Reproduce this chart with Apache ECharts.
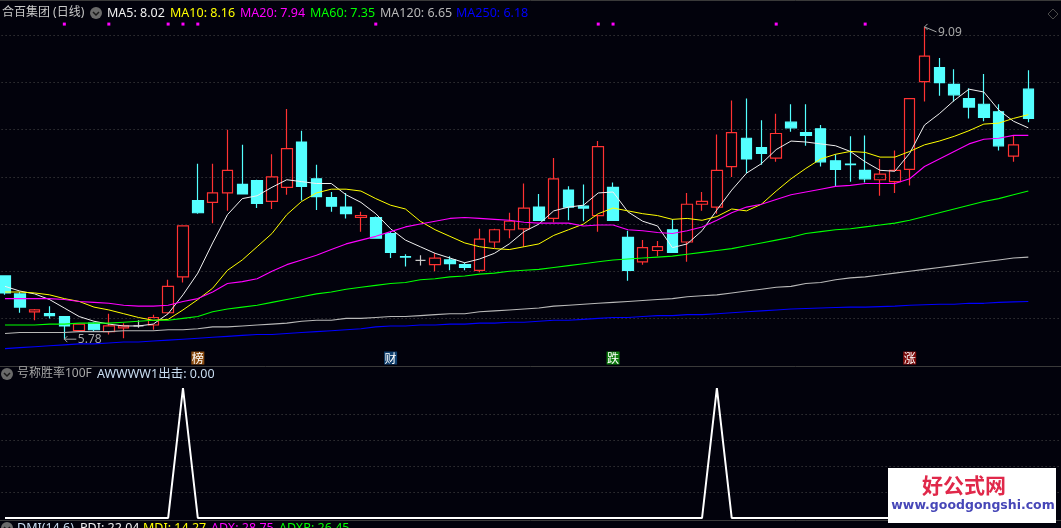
<!DOCTYPE html>
<html>
<head>
<meta charset="utf-8">
<style>
html,body{margin:0;padding:0;background:#02020c;}
#main{width:1061px;height:528px;}
</style>
<script src="https://cdn.jsdelivr.net/npm/echarts@6/dist/echarts.min.js"></script>
</head>
<body>
<div id="main"></div>
<script>
// K线 open/close/low/high
var opens = [6.45,6.26,6.07,6.05,6.02,5.87,5.95,5.86,5.90,5.92,
  5.93,6.06,6.44,7.25,7.23,7.33,7.42,7.46,7.24,7.39,
  7.87,7.48,7.28,7.18,7.07,7.07,6.90,6.655,6.615,6.57,
  6.62,6.57,6.51,6.81,6.94,6.95,7.18,7.06,7.36,7.19,
  7.09,7.39,6.86,6.60,6.72,6.94,6.81,7.21,7.18,7.61,
  7.91,7.81,7.70,8.08,7.97,8.01,7.67,7.635,7.57,7.47,
  7.45,7.58,8.51,8.66,8.48,8.33,8.27,8.19,7.72,8.43];
var closes = [6.27,6.12,6.09,6.03,5.92,5.94,5.88,5.92,5.92,5.92,
  6.01,6.34,6.98,7.12,7.33,7.57,7.32,7.22,7.50,7.80,
  7.40,7.29,7.19,7.11,7.09,6.85,6.70,6.65,6.615,6.64,
  6.58,6.54,6.84,6.94,7.03,7.17,7.04,7.48,7.18,7.17,
  7.82,7.04,6.51,6.75,6.76,6.70,7.21,7.24,7.57,7.97,
  7.69,7.75,7.96,8.02,7.94,7.66,7.58,7.63,7.48,7.53,
  7.57,8.33,8.78,8.50,8.37,8.24,8.13,7.83,7.84,8.12];
var lows = [6.25,6.06,5.98,6.00,5.78,5.87,5.86,5.83,5.79,5.90,
  5.88,6.05,6.38,7.11,7.01,7.14,7.32,7.17,7.16,7.31,
  7.25,7.15,7.13,7.06,6.92,6.85,6.64,6.55,6.56,6.50,
  6.51,6.51,6.49,6.75,6.85,6.76,7.04,7.02,7.04,7.03,
  6.92,7.04,6.40,6.57,6.66,6.70,6.60,7.14,7.11,7.50,
  7.54,7.63,7.66,7.98,7.83,7.61,7.40,7.45,7.44,7.30,
  7.33,7.41,8.30,8.36,8.30,8.12,8.09,7.78,7.66,8.08];
var highs = [6.45,6.28,6.10,6.13,6.02,5.94,5.96,6.05,5.95,5.98,
  6.04,6.41,6.98,7.64,7.64,8.00,7.84,7.47,7.74,8.22,
  7.99,7.63,7.34,7.33,7.13,7.08,6.92,6.68,6.67,6.69,
  6.66,6.59,6.95,6.95,7.12,7.43,7.32,7.70,7.40,7.42,
  7.88,7.44,6.93,6.83,6.82,7.05,7.33,7.34,7.95,8.31,
  8.33,8.10,8.17,8.27,8.27,8.05,7.74,7.93,7.94,7.69,
  7.78,8.33,9.09,8.76,8.64,8.44,8.59,8.27,7.94,8.63];

var ma5 = [6.34,6.29,6.26,6.20,6.11,6.02,5.97,5.94,5.92,5.92,
  5.94,6.05,6.25,6.48,6.80,7.10,7.27,7.30,7.39,7.47,
  7.45,7.43,7.43,7.31,7.23,7.11,6.95,6.83,6.76,6.69,
  6.64,6.59,6.63,6.69,6.79,6.92,7.00,7.14,7.18,7.20,
  7.33,7.34,7.13,7.03,6.98,6.75,6.79,6.93,7.15,7.36,
  7.54,7.64,7.79,7.88,7.87,7.85,7.83,7.77,7.66,7.57,
  7.56,7.75,8.05,8.17,8.31,8.43,8.40,8.21,8.09,8.02];
var ma10 = [6.28,6.28,6.27,6.25,6.21,6.18,6.12,6.09,6.05,6.01,
  5.98,5.99,6.09,6.20,6.32,6.51,6.62,6.76,6.90,7.10,
  7.24,7.33,7.37,7.37,7.35,7.27,7.20,7.16,7.03,6.94,
  6.87,6.80,6.76,6.74,6.73,6.76,6.79,6.88,6.94,7.00,
  7.11,7.17,7.14,7.11,7.09,7.05,7.06,7.04,7.08,7.16,
  7.14,7.21,7.35,7.48,7.59,7.69,7.74,7.77,7.76,7.71,
  7.71,7.77,7.84,7.88,7.93,7.99,8.06,8.07,8.12,8.16];
var ma20 = [6.21,6.21,6.21,6.21,6.20,6.18,6.17,6.16,6.14,6.13,
  6.13,6.14,6.18,6.21,6.28,6.37,6.39,6.42,6.50,6.57,
  6.62,6.67,6.73,6.79,6.83,6.87,6.92,6.97,7.00,7.03,
  7.06,7.07,7.06,7.05,7.04,7.02,7.01,7.01,7.01,6.98,
  6.99,6.99,6.94,6.93,6.91,6.90,6.93,6.97,7.04,7.12,
  7.18,7.21,7.26,7.31,7.34,7.37,7.40,7.41,7.43,7.43,
  7.43,7.48,7.61,7.69,7.77,7.85,7.90,7.91,7.94,7.94];
var ma60 = [5.93,5.93,5.93,5.94,5.94,5.95,5.95,5.95,5.96,5.97,
  5.98,5.98,6.00,6.02,6.07,6.10,6.12,6.14,6.17,6.20,
  6.23,6.26,6.28,6.31,6.33,6.35,6.37,6.38,6.41,6.42,
  6.44,6.45,6.47,6.48,6.50,6.51,6.52,6.54,6.56,6.58,
  6.60,6.62,6.63,6.64,6.65,6.66,6.68,6.70,6.72,6.74,
  6.77,6.80,6.83,6.86,6.90,6.92,6.94,6.95,6.97,6.99,
  7.01,7.04,7.08,7.12,7.16,7.20,7.24,7.27,7.31,7.35];
var ma120 = [5.84,5.85,5.85,5.85,5.85,5.86,5.86,5.86,5.87,5.87,
  5.87,5.88,5.88,5.89,5.91,5.91,5.92,5.93,5.94,5.95,
  5.97,5.98,5.98,6.00,6.00,6.01,6.02,6.02,6.03,6.04,
  6.05,6.05,6.07,6.08,6.09,6.10,6.11,6.13,6.14,6.15,
  6.16,6.17,6.18,6.19,6.20,6.21,6.23,6.24,6.25,6.27,
  6.29,6.31,6.33,6.34,6.37,6.38,6.41,6.43,6.44,6.46,
  6.48,6.50,6.52,6.54,6.56,6.58,6.60,6.62,6.64,6.65];
var ma250 = [5.68,5.69,5.70,5.71,5.72,5.73,5.73,5.74,5.75,5.75,
  5.76,5.77,5.78,5.79,5.80,5.81,5.82,5.83,5.83,5.84,
  5.85,5.86,5.87,5.88,5.89,5.91,5.92,5.92,5.93,5.93,
  5.94,5.94,5.95,5.95,5.96,5.96,5.97,5.98,5.98,5.99,
  6.00,6.01,6.01,6.02,6.03,6.03,6.04,6.04,6.05,6.06,
  6.07,6.08,6.09,6.10,6.105,6.11,6.115,6.12,6.12,6.125,
  6.13,6.14,6.145,6.15,6.15,6.16,6.16,6.17,6.175,6.18];

// 副图 AWWWW1出击
var attack = [0,0,0,0,0,0,0,0,0,0,
  0,0,1,0,0,0,0,0,0,0,
  0,0,0,0,0,0,0,0,0,0,
  0,0,0,0,0,0,0,0,0,0,
  0,0,0,0,0,0,0,0,1,0,
  0,0,0,0,0,0,0,0,0,0,
  0,0,0,0,0,0,0,0,0,0];

var signalIdx = [4,7,11,12,13,25,40,41,52,58];
var signalLevel = 9.12;
var tagIdx = [13,26,41,61];
var tagText = ['榜','财','跌','涨'];
var tagColor = ['#8a4b10','#0f3f6e','#0b7a0b','#7d0c0c'];
var tagLevel = 5.58;
var extremeIdx = [4,62];
var extremeVal = [5.78,9.09];

// 右边留两根空位，网格线才能画到头
var categories = [];
for(var i=0;i<72;i++){
    categories.push(String(i+1));
}

var BG = '#02020c';
var UP = '#ff3232';
var DOWN = '#54ffff';
var FONT = '"Noto Sans","Noto Sans CJK SC",sans-serif';

var kData = [];
for(var i=0;i<opens.length;i++){
    kData.push([opens[i],closes[i],lows[i],highs[i]]);
}

function maSeries(name,data,color,width){
    return {
        name:name,
        type:'line',
        xAxisIndex:0,
        yAxisIndex:0,
        data:data,
        showSymbol:false,
        smooth:false,
        lineStyle:{color:color,width:width},
        silent:true,
        z:3
    };
}

function headText(text,x,y,color,size){
    return {
        type:'text',
        z:50,
        style:{
            text:text,x:x,y:y,fill:color,
            font:(size||12.5)+'px '+FONT,
            textVerticalAlign:'middle'
        }
    };
}

function arrowBtn(x,y){
    return [
        {type:'circle',z:50,shape:{cx:x,cy:y,r:6},style:{fill:'#6a6a6a'}},
        {type:'polyline',z:51,shape:{points:[[x-3,y-1],[x,y+2],[x+3,y-1]]},style:{stroke:'#1a1a1a',fill:null,lineWidth:1.5}}
    ];
}

function hLine(y,color){
    return {type:'line',z:40,shape:{x1:0,y1:y,x2:1061,y2:y},style:{stroke:color,lineWidth:1}};
}

var graphics = [
    hLine(0.5,'#3a3a3a'),
    hLine(366.5,'#3a3a3a'),
    hLine(520.5,'#3a3a3a'),
    headText('合百集团 (日线)',2,13,'#c8c8c8',12),
    headText('MA5: 8.02',107,13,'#f0f0f0'),
    headText('MA10: 8.16',170,13,'#ffff00'),
    headText('MA20: 7.94',240,13,'#ff00ff'),
    headText('MA60: 7.35',310,13,'#00ff00'),
    headText('MA120: 6.65',380,13,'#b8b8b8'),
    headText('MA250: 6.18',456,13,'#0000ff'),
    headText('号称胜率100F',17,374,'#a8a8a8',12),
    headText('AWWWW1出击: 0.00',97,374,'#c8dcf0'),
    headText('DMI(14,6)',17,528,'#c8dcf0'),
    headText('PDI: 22.04',80,528,'#f0f0f0'),
    headText('MDI: 14.27',143,528,'#ffff00'),
    headText('ADX: 28.75',211,528,'#ff00ff'),
    headText('ADXR: 26.45',279,528,'#00ff00'),
    {type:'polygon',z:50,shape:{points:[[1053,9],[1058,14],[1053,19],[1048,14]]},style:{fill:null,stroke:'#4a4a4a',lineWidth:1}},
    // 水印
    {type:'rect',z:60,shape:{x:888,y:468,width:168,height:55},style:{fill:'#ffffff'}},
    {type:'text',z:61,style:{text:'好公式网',x:964,y:485,fill:'#e0284a',font:'bold 21px "Noto Sans CJK SC"',textAlign:'center',textVerticalAlign:'middle'}},
    {type:'text',z:61,style:{text:'www.goodgongshi.com',x:973,y:506,fill:'#4747b8',font:'bold 12.5px "DejaVu Sans"',textAlign:'center',textVerticalAlign:'middle'}}
].concat(arrowBtn(96,13),arrowBtn(7,374),arrowBtn(7,528));

var splitStyle = {show:true,showMinLine:false,showMaxLine:false,lineStyle:{color:'#4a4a4a',type:[1,3],width:1}};
var gridL = -2.4, gridW = 1067.8;

var option = {
    backgroundColor:BG,
    animation:false,
    grid:[
        {left:gridL,width:gridW,top:-11.77,height:377.36,outerBoundsMode:'none'},
        {left:gridL,width:gridW,top:388,height:130,outerBoundsMode:'none'}
    ],
    xAxis:[
        {type:'category',gridIndex:0,data:categories,boundaryGap:true,axisLine:{show:false},axisTick:{show:false},axisLabel:{show:false},splitLine:{show:false}},
        {type:'category',gridIndex:1,data:categories,boundaryGap:true,axisLine:{show:false},axisTick:{show:false},axisLabel:{show:false},splitLine:{show:false}}
    ],
    yAxis:[
        {type:'value',gridIndex:0,min:5.5,max:9.5,interval:0.5,axisLine:{show:false},axisTick:{show:false},axisLabel:{show:false},splitLine:splitStyle},
        {type:'value',gridIndex:1,min:0,max:1,interval:0.2,axisLine:{show:false},axisTick:{show:false},axisLabel:{show:false},splitLine:splitStyle}
    ],
    graphic:graphics,
    series:[
        {
            name:'K',
            type:'candlestick',
            xAxisIndex:0,
            yAxisIndex:0,
            data:kData,
            barWidth:11,
            silent:true,
            clip:false,
            z:2,
            itemStyle:{
                color:'transparent',
                color0:DOWN,
                borderColor:UP,
                borderColor0:DOWN,
                borderColorDoji:'#c8c8c8',
                borderWidth:1.2
            }
        },
        maSeries('MA5',ma5,'#f0f0f0',1),
        maSeries('MA10',ma10,'#ffff00',1),
        maSeries('MA20',ma20,'#ff00ff',1.1),
        maSeries('MA60',ma60,'#00ff00',1.1),
        maSeries('MA120',ma120,'#b8b8b8',1.1),
        maSeries('MA250',ma250,'#0000ff',1.1),
        {
            name:'signal',
            type:'scatter',
            xAxisIndex:0,
            yAxisIndex:0,
            symbol:'rect',
            symbolSize:3,
            silent:true,
            itemStyle:{color:'#ff00ff',opacity:1},
            data:signalIdx.map(function(idx){return [idx,signalLevel];}),
            z:4
        },
        {
            name:'tag',
            type:'scatter',
            xAxisIndex:0,
            yAxisIndex:0,
            symbol:'rect',
            symbolSize:13,
            silent:true,
            data:tagIdx.map(function(idx,n){
                return {
                    value:[idx,tagLevel],
                    itemStyle:{color:tagColor[n],opacity:1},
                    label:{show:true,position:'inside',formatter:tagText[n],color:'#ffffff',fontSize:12,fontFamily:'"Noto Sans CJK SC"',padding:0}
                };
            }),
            z:4
        },
        {
            name:'extreme',
            type:'custom',
            xAxisIndex:0,
            yAxisIndex:0,
            silent:true,
            clip:false,
            data:extremeIdx.map(function(idx,n){return [idx,extremeVal[n]];}),
            encode:{x:0,y:1},
            z:5,
            renderItem:function(params,api){
                var p = api.coord([api.value(0),api.value(1)]);
                var isHigh = params.dataIndex==1;
                var dx = 12, dy = isHigh?5:0;
                var stroke = {stroke:'#a8a8a8',fill:null,lineWidth:1};
                return {
                    type:'group',
                    children:[
                        {type:'polyline',shape:{points:[[p[0]+dx,p[1]+dy],[p[0],p[1]]]},style:stroke},
                        {type:'polyline',shape:{points:[[p[0]+3,p[1]-3],[p[0],p[1]],[p[0]+3,p[1]+3]]},style:stroke},
                        {type:'text',style:{text:extremeVal[params.dataIndex].toFixed(2),x:p[0]+dx+1.5,y:p[1]+dy+(isHigh?1:0),fill:'#a8a8a8',font:'12px '+FONT,textVerticalAlign:'middle'}}
                    ]
                };
            }
        },
        {
            name:'AWWWW1',
            type:'line',
            xAxisIndex:1,
            yAxisIndex:1,
            data:attack,
            showSymbol:false,
            silent:true,
            clip:false,
            lineStyle:{color:'#ffffff',width:2},
            z:3
        }
    ]
};

var chart = echarts.init(document.getElementById('main'));
chart.setOption(option);
</script>
</body>
</html>
